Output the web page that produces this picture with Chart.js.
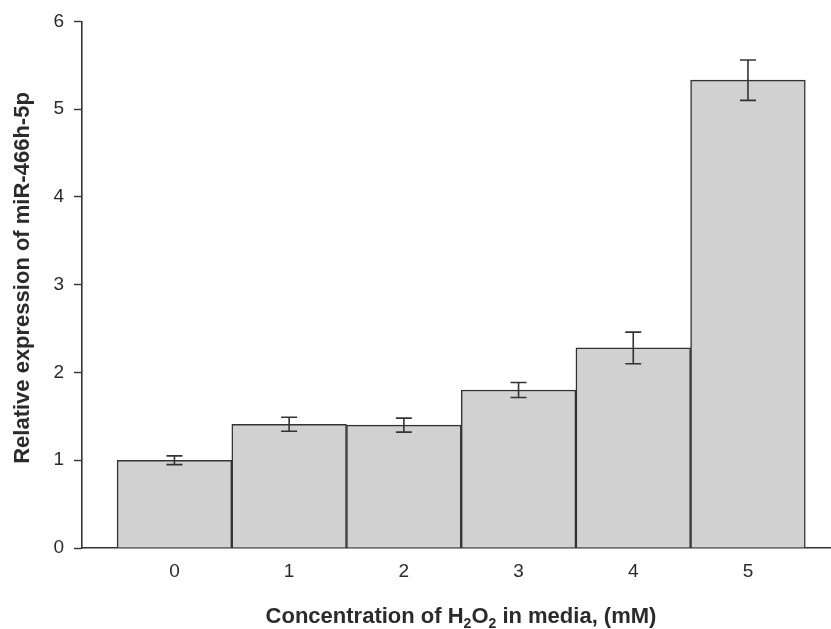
<!DOCTYPE html>
<html>
<head>
<meta charset="utf-8">
<script src="https://cdn.jsdelivr.net/npm/chart.js@4"></script>
<style>
  html, body { margin: 0; padding: 0; background: #fff; }
</style>
</head>
<body>
<canvas id="grafico" width="831" height="629"></canvas>
<script>
// dados
const concentracoes = [0, 1, 2, 3, 4, 5];
const expressao = [1.00, 1.41, 1.40, 1.80, 2.28, 5.33];
const erro = [0.05, 0.08, 0.08, 0.085, 0.18, 0.23];
const yTicks = [0, 1, 2, 3, 4, 5, 6];

const tituloY = "Relative expression of miR-466h-5p";
const tituloX = [["Concentration of H", false], ["2", true], ["O", false], ["2", true], [" in media, (mM)", false]];

const corTexto = "#2b2b2b";
const corLinha = "#333";
const fonte = "'Liberation Sans', Arial, sans-serif";

// barras de erro
const errorBars = {
  id: "errorBars",
  afterDatasetsDraw(chart) {
    const ctx = chart.ctx;
    const xs = chart.scales.x;
    const ys = chart.scales.y;
    ctx.save();
    ctx.strokeStyle = corLinha;
    ctx.lineWidth = 1.6;
    for (let i = 0; i < expressao.length; i++) {
      const x = xs.getPixelForValue(concentracoes[i]);
      const top = ys.getPixelForValue(expressao[i] + erro[i]);
      const bot = ys.getPixelForValue(expressao[i] - erro[i]);
      ctx.beginPath();
      ctx.moveTo(x, top); ctx.lineTo(x, bot);
      ctx.moveTo(x - 8, top); ctx.lineTo(x + 8, top);
      ctx.moveTo(x - 8, bot); ctx.lineTo(x + 8, bot);
      ctx.stroke();
    }
    ctx.restore();
  }
};

// titulos dos eixos (com subscrito)
const titulos = {
  id: "titulos",
  afterDraw(chart) {
    const ctx = chart.ctx;
    ctx.save();
    ctx.fillStyle = corTexto;
    ctx.textBaseline = "alphabetic";
    const fNormal = "bold 22px " + fonte;
    const fSub = "bold 14px " + fonte;
    let total = 0;
    tituloX.forEach(([t, sub]) => { ctx.font = sub ? fSub : fNormal; total += ctx.measureText(t).width; });
    let x = 461 - total / 2;
    const base = 623;
    tituloX.forEach(([t, sub]) => {
      ctx.font = sub ? fSub : fNormal;
      ctx.fillText(t, x, sub ? base + 5 : base);
      x += ctx.measureText(t).width;
    });

    ctx.translate(23, 278);
    ctx.rotate(-Math.PI / 2);
    ctx.font = fNormal;
    ctx.textAlign = "center";
    ctx.textBaseline = "middle";
    ctx.fillText(tituloY, 0, 0);
    ctx.restore();
  }
};

new Chart(document.getElementById("grafico"), {
  type: "bar",
  data: {
    datasets: [{
      data: concentracoes.map((c, i) => ({ x: c, y: expressao[i] })),
      backgroundColor: "#d1d1d1",
      borderColor: corLinha,
      borderWidth: 1.5,
      barPercentage: 1,
      categoryPercentage: 1
    }]
  },
  options: {
    responsive: false,
    animation: false,
    layout: { padding: { top: 19, right: 0, left: 0, bottom: 0 } },
    plugins: { legend: { display: false }, tooltip: { enabled: false } },
    scales: {
      x: {
        type: "linear",
        offset: false,
        min: -0.806,
        max: 5.724,
        afterBuildTicks: s => { s.ticks = concentracoes.map(v => ({ value: v })); },
        afterFit: s => { s.height = 81; },
        ticks: { font: { size: 19, family: fonte }, color: corTexto, padding: 12, maxRotation: 0, autoSkip: false },
        grid: { drawOnChartArea: false, drawTicks: false },
        border: { display: true, color: corLinha, width: 1.6 }
      },
      y: {
        min: 0,
        max: 6,
        afterBuildTicks: s => { s.ticks = yTicks.map(v => ({ value: v })); },
        afterFit: s => { s.width = 82; },
        ticks: { font: { size: 19, family: fonte }, color: corTexto, padding: 10 },
        grid: { drawOnChartArea: false, tickLength: 8, color: corLinha, tickWidth: 1.4 },
        border: { display: true, color: corLinha, width: 1.6 }
      }
    }
  },
  plugins: [errorBars, titulos]
});
</script>
</body>
</html>
